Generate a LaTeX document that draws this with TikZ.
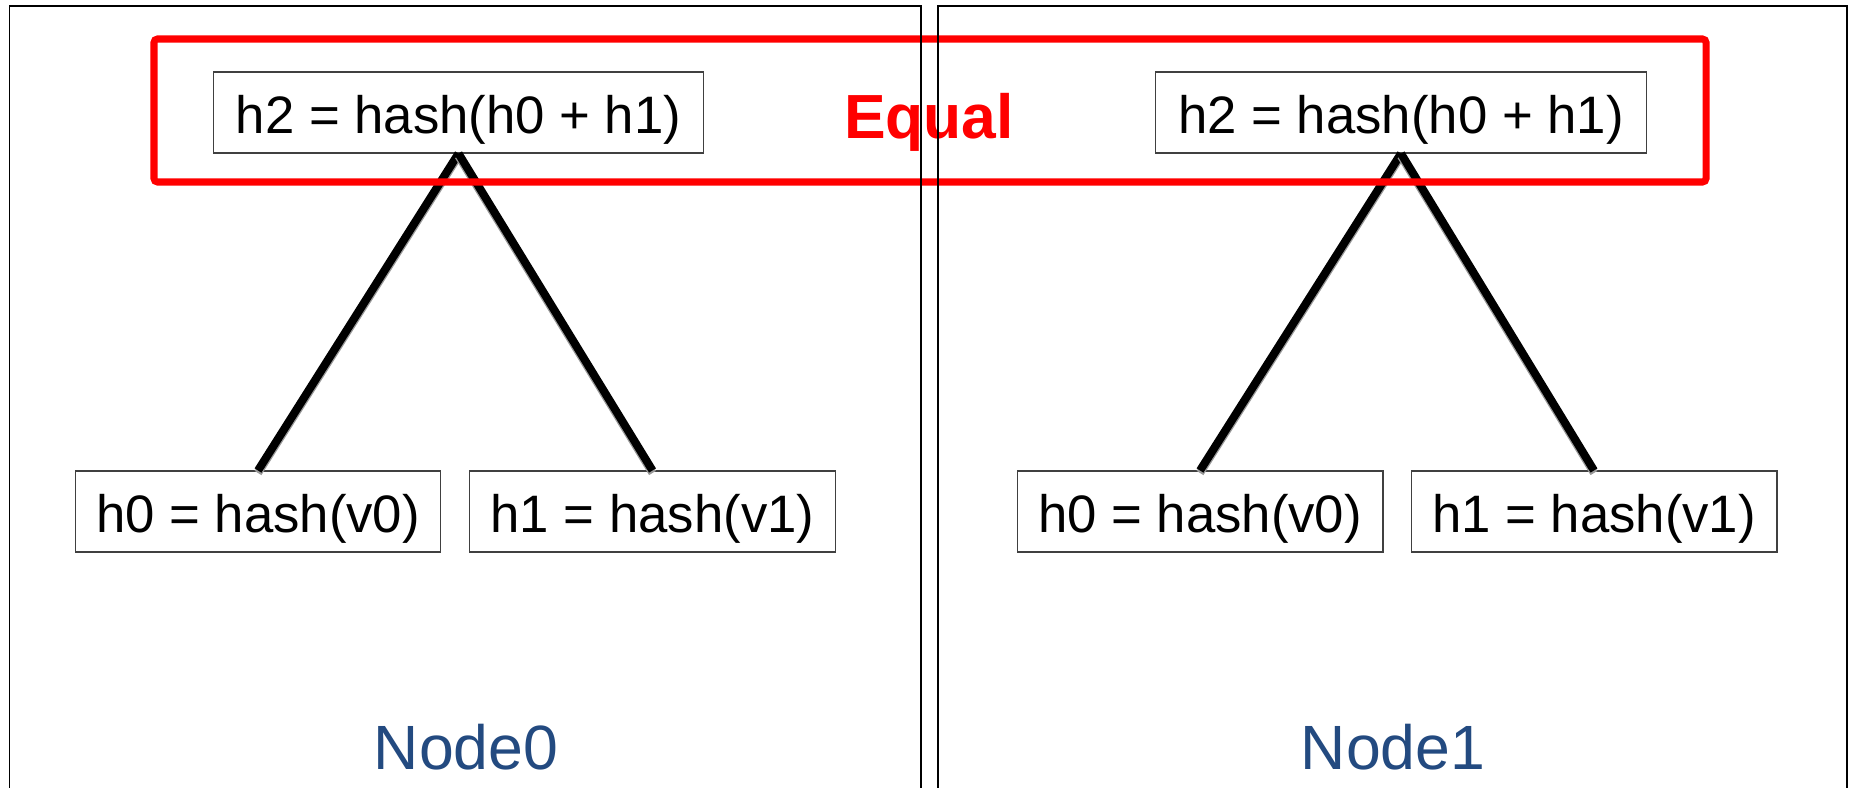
\documentclass[tikz,border=0pt]{standalone}
\usepackage{fontspec}
\setmainfont{Liberation Sans}
\definecolor{labelblue}{RGB}{35,74,128}
\tikzset{
  hashbox/.style={draw=black!75, line width=0.6pt, minimum height=1.62cm, inner sep=0pt,
    text height=24pt, text depth=0pt, font=\fontsize{30}{36}\selectfont},
  branch/.style={line width=4.6pt},
  branchshade/.style={line width=4.6pt, black!40},
  panel/.style={line width=1.1pt},
}
\begin{document}
\begin{tikzpicture}[x=0.02cm, y=-0.02cm]
\useasboundingbox (0,0) rectangle (1854,788);

% left tree
\node[hashbox, minimum width=9.82cm] (l2) at (458.5,112.5) {h2 = hash(h0 + h1)};
\node[hashbox, minimum width=7.32cm] (l0) at (258,511.5) {h0 = hash(v0)};
\node[hashbox, minimum width=7.32cm] (l1) at (652.5,511.5) {h1 = hash(v1)};

% right tree
\node[hashbox, minimum width=9.82cm] (r2) at (1401,112.5) {h2 = hash(h0 + h1)};
\node[hashbox, minimum width=7.32cm] (r0) at (1200,511.5) {h0 = hash(v0)};
\node[hashbox, minimum width=7.32cm] (r1) at (1594,511.5) {h1 = hash(v1)};

\foreach \a/\b in {l2/l0, l2/l1, r2/r0, r2/r1} {
  \draw[branchshade] ([yshift=-0.05cm]\a.south) -- ([yshift=-0.05cm]\b.north);
  \draw[branch] (\a.south) -- (\b.north);
}

% equal frame
\draw[red, line width=4pt, rounded corners=2pt] (154,39) rectangle (1706,182);
\node[red, anchor=base, font=\fontsize{35.5}{42}\selectfont\bfseries] (eq) at (929,138) {Equal};

% two panels
\draw[panel] (9.5,800) -- (9.5,6) -- (921,6) -- (921,800);
\draw[panel] (938,800) -- (938,6) -- (1847,6) -- (1847,800);
\node[labelblue, anchor=base, font=\fontsize{35.6}{42}\selectfont] (n0) at (466,769) {Node0};
\node[labelblue, anchor=base, font=\fontsize{35.6}{42}\selectfont] (n1) at (1393,769) {Node1};
\end{tikzpicture}
\end{document}
